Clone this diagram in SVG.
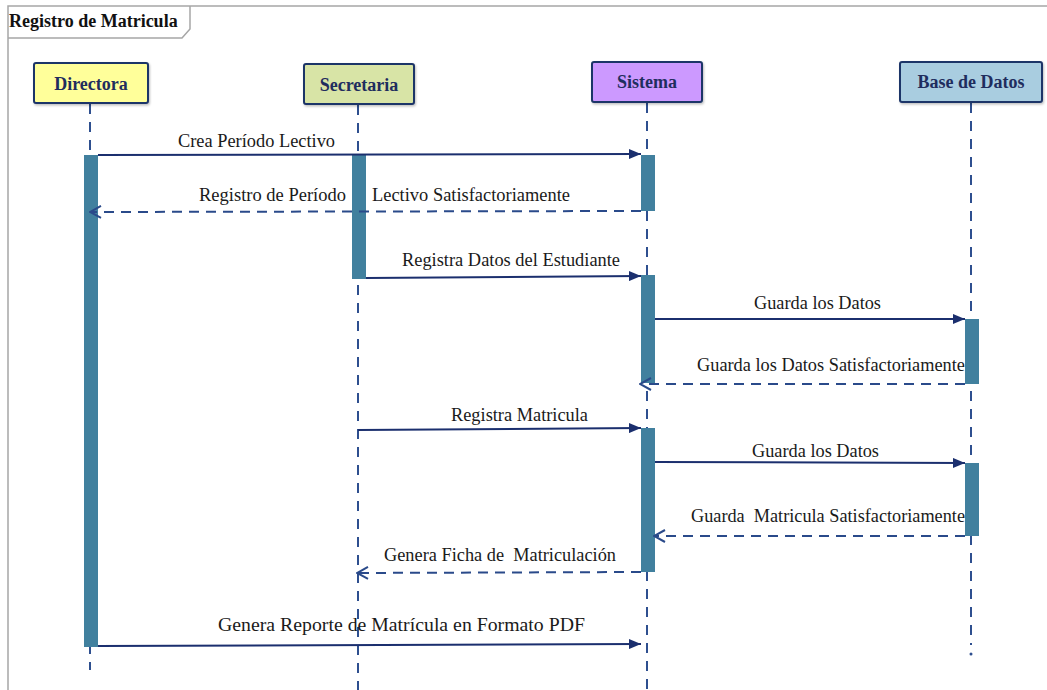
<svg xmlns="http://www.w3.org/2000/svg" width="1047" height="690" viewBox="0 0 1047 690">
  <defs>
    <marker id="filled" viewBox="0 0 12 10" refX="12" refY="5" markerWidth="12" markerHeight="10" markerUnits="userSpaceOnUse" orient="auto">
      <path d="M0,0 L12,5 L0,10 Z" fill="#1b2f6e"/>
    </marker>
    <marker id="open" viewBox="0 0 13 14" refX="12" refY="7" markerWidth="13" markerHeight="14" markerUnits="userSpaceOnUse" orient="auto">
      <path d="M1,1 L12,7 L1,13" fill="none" stroke="#2a4a8a" stroke-width="2"/>
    </marker>
    <filter id="shadow" x="-10%" y="-10%" width="120%" height="130%">
      <feDropShadow dx="1" dy="1.5" stdDeviation="1" flood-color="#000" flood-opacity="0.25"/>
    </filter>
  </defs>
  <style>
    .frame { fill: none; stroke: #a6a6a6; stroke-width: 1.5; }
    .title { font-family: "Liberation Serif", "Times New Roman", serif; font-weight: bold; font-size: 18px; fill: #111; }
    .head { stroke: #1f3468; stroke-width: 2; filter: url(#shadow); }
    .headtxt { font-family: "Liberation Serif", "Times New Roman", serif; font-weight: bold; font-size: 18px; fill: #1f2d5e; text-anchor: middle; }
    .life { stroke: #2e4f8f; stroke-width: 2; stroke-dasharray: 10 8; fill: none; }
    .act { fill: #41809e; }
    .call { stroke: #1b2f6e; stroke-width: 2; fill: none; marker-end: url(#filled); }
    .ret { stroke: #2a4a8a; stroke-width: 2; stroke-dasharray: 10 7; fill: none; marker-end: url(#open); }
    .lbl { font-family: "Liberation Serif", "Times New Roman", serif; font-size: 18px; fill: #1a1a1a; white-space: pre; }
  </style>

  <rect x="0" y="0" width="1047" height="690" fill="#ffffff"/>

  <!-- frame with title tab -->
  <path class="frame" d="M8,690 L8,6 L1047,6"/>
  <path class="frame" d="M8,38 L182,38 L190,29 L190,6"/>
  <text class="title" x="9" y="27">Registro de Matricula</text>

  <!-- lifelines -->
  <g id="lifelines">
    <line class="life" x1="90" y1="104" x2="90" y2="670"/>
    <line class="life" x1="358" y1="105" x2="358" y2="690"/>
    <line class="life" x1="647" y1="103" x2="647" y2="690"/>
    <line class="life" x1="971" y1="103" x2="971" y2="645"/>
    <circle cx="971" cy="654" r="1.5" fill="#2e4f8f"/>
  </g>

  <g id="directora">
    <rect class="head" x="34" y="63" width="114" height="40" rx="2" fill="#ffff9a"/>
    <text class="headtxt" x="91" y="90">Directora</text>
  </g>
  <g id="secretaria">
    <rect class="head" x="304" y="64" width="110" height="40" rx="2" fill="#d8e4a6"/>
    <text class="headtxt" x="359" y="91">Secretaria</text>
  </g>
  <g id="sistema">
    <rect class="head" x="592" y="62" width="110" height="40" rx="2" fill="#cc99ff"/>
    <text class="headtxt" x="647" y="88">Sistema</text>
  </g>
  <g id="base-de-datos">
    <rect class="head" x="900" y="62" width="142" height="40" rx="2" fill="#a9cde0"/>
    <text class="headtxt" x="971" y="88">Base de Datos</text>
  </g>

  <!-- activation bars -->
  <g id="activations">
    <rect class="act" x="84" y="155" width="14" height="492"/>
    <rect class="act" x="352" y="155" width="14" height="124"/>
    <rect class="act" x="641" y="155" width="14" height="56"/>
    <rect class="act" x="641" y="275" width="14" height="108"/>
    <rect class="act" x="641" y="428" width="14" height="144"/>
    <rect class="act" x="965" y="319" width="14" height="65"/>
    <rect class="act" x="965" y="463" width="14" height="73"/>
  </g>

  <!-- messages -->
  <g id="connectors">
    <line class="call" x1="98" y1="155" x2="641" y2="154"/>
    <line class="ret" x1="641" y1="211" x2="90" y2="212"/>
    <line class="call" x1="366" y1="278" x2="641" y2="276"/>
    <line class="call" x1="655" y1="319" x2="965" y2="319"/>
    <line class="ret" x1="965" y1="384" x2="640" y2="384"/>
    <line class="call" x1="358" y1="430" x2="641" y2="428"/>
    <line class="call" x1="655" y1="462" x2="965" y2="463"/>
    <line class="ret" x1="965" y1="536" x2="654" y2="536"/>
    <line class="ret" x1="641" y1="572" x2="357" y2="573"/>
    <line class="call" x1="98" y1="646" x2="641" y2="644"/>
  </g>

  <g id="labels">
    <text class="lbl" x="178" y="147" textLength="157" lengthAdjust="spacingAndGlyphs">Crea Período Lectivo</text>
    <text class="lbl" y="201"><tspan x="199" textLength="147" lengthAdjust="spacingAndGlyphs">Registro de Período</tspan><tspan x="372" textLength="198" lengthAdjust="spacingAndGlyphs">Lectivo Satisfactoriamente</tspan></text>
    <text class="lbl" x="402" y="266" textLength="218" lengthAdjust="spacingAndGlyphs">Registra Datos del Estudiante</text>
    <text class="lbl" x="754" y="309" textLength="127" lengthAdjust="spacingAndGlyphs">Guarda los Datos</text>
    <text class="lbl" x="697" y="371" textLength="268" lengthAdjust="spacingAndGlyphs">Guarda los Datos Satisfactoriamente</text>
    <text class="lbl" x="451" y="421" textLength="137" lengthAdjust="spacingAndGlyphs">Registra Matricula</text>
    <text class="lbl" x="752" y="457" textLength="127" lengthAdjust="spacingAndGlyphs">Guarda los Datos</text>
    <text class="lbl" x="691" y="522" textLength="274" lengthAdjust="spacingAndGlyphs" xml:space="preserve">Guarda  Matricula Satisfactoriamente</text>
    <text class="lbl" x="384" y="561" textLength="232" lengthAdjust="spacingAndGlyphs" xml:space="preserve">Genera Ficha de  Matriculación</text>
    <text class="lbl" x="218" y="631" textLength="367" lengthAdjust="spacingAndGlyphs">Genera Reporte de Matrícula en Formato PDF</text>
  </g>
</svg>
